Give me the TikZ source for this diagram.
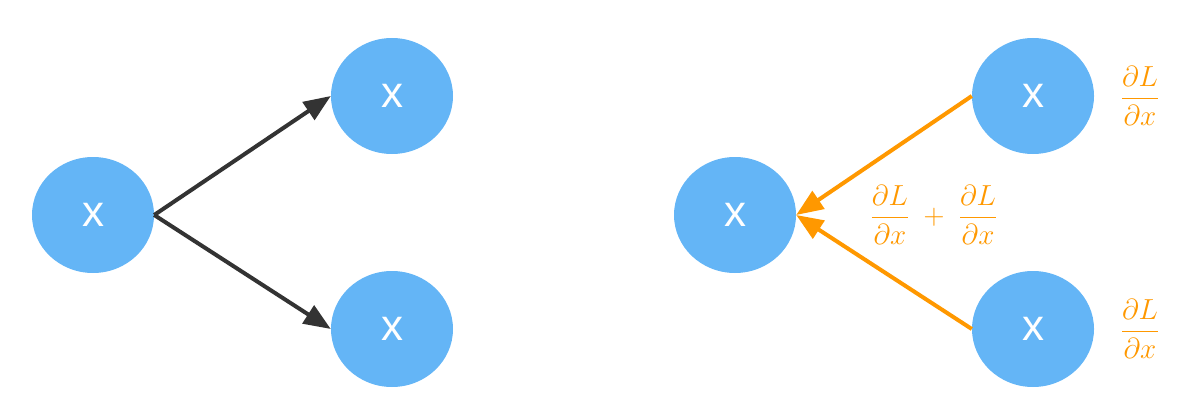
\RequirePackage{fix-cm}
\documentclass[tikz,border=0pt]{standalone}
\usepackage{amsmath}
\usepackage{fontspec}
\newfontfamily\nodefont{Liberation Sans}
\usetikzlibrary{shapes.geometric,arrows.meta}
\definecolor{nodeblue}{HTML}{64B5F6}
\definecolor{gradorange}{HTML}{FF9800}
\definecolor{arrowgray}{HTML}{333333}
\begin{document}
\begin{tikzpicture}[x=1pt,y=-1pt,
  vnode/.style={ellipse,fill=nodeblue,draw=none,minimum width=122pt,minimum height=116pt,inner sep=0pt,
    text=white,font=\nodefont\fontsize{44}{48}\selectfont},
  fwd/.style={draw=arrowgray,line width=4pt,-{Triangle[length=27pt,width=21pt]}},
  bwd/.style={draw=gradorange,line width=4pt,-{Triangle[length=27pt,width=21pt]}},
  grad/.style={text=gradorange,font=\fontsize{29}{34}\selectfont,inner sep=0pt}]
\useasboundingbox (0,0) rectangle (1194,404);
\node[vnode] (a) at (93,215) {x};
\node[vnode] (b) at (392,96) {x};
\node[vnode] (c) at (392,329) {x};
\draw[fwd] (a.east) -- (b.west);
\draw[fwd] (a.east) -- (c.west);
\node[vnode] (d) at (735,215) {x};
\node[vnode] (e) at (1033,96) {x};
\node[vnode] (f) at (1033,329) {x};
\draw[bwd] (e.west) -- (d.east);
\draw[bwd] (f.west) -- (d.east);
\node[grad] (g1) at (934,215) {$\displaystyle\frac{\partial L}{\partial x}\;+\;\frac{\partial L}{\partial x}$};
\node[grad] (g2) at (1140,96) {$\displaystyle\frac{\partial L}{\partial x}$};
\node[grad] (g3) at (1140,329) {$\displaystyle\frac{\partial L}{\partial x}$};
\end{tikzpicture}
\end{document}
